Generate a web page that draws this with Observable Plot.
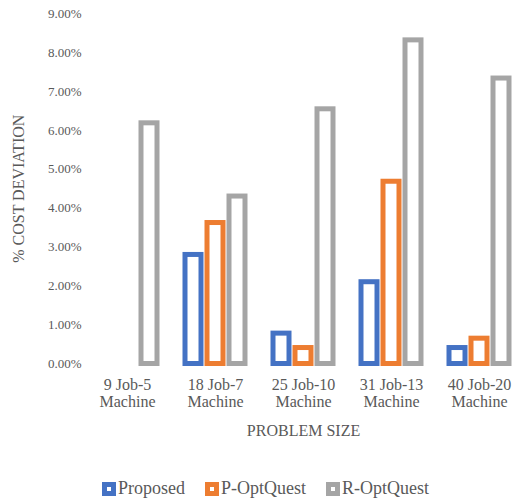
<!DOCTYPE html>
<html>
<head>
<meta charset="utf-8">
<script src="https://cdn.jsdelivr.net/npm/d3@7"></script>
<script src="https://cdn.jsdelivr.net/npm/@observablehq/plot@0.6"></script>
<style>
  body { margin: 0; background: #fff; font-family: "Liberation Serif", "Times New Roman", serif; color: #595959; }
  #chart svg { display: block; overflow: visible; }
  #chart svg text { font-family: "Liberation Serif", "Times New Roman", serif; }
  #legend { display: flex; align-items: center; padding-left: 102px; margin-top: 33px; font-size: 18px; line-height: 21px; }
  .item { display: flex; align-items: center; margin-right: 20px; }
  .sw { width: 14px; height: 14px; box-sizing: border-box; border: 5px solid; background: #fff; margin-right: 2px; }
</style>
</head>
<body>
<div id="chart"></div>
<div id="legend"></div>
<script>
// Problem sizes (x groups) and the three methods compared in each group
const categories = ["9 Job-5\nMachine", "18 Job-7\nMachine", "25 Job-10\nMachine", "31 Job-13\nMachine", "40 Job-20\nMachine"];
const seriesNames = ["Proposed", "P-OptQuest", "R-OptQuest"];
const seriesColors = ["#4472C4", "#ED7D31", "#A5A5A5"];

// % cost deviation per problem size (null = no bar)
const proposed  = [null, 2.80, 0.78, 2.10, 0.41];
const pOptQuest = [null, 3.62, 0.41, 4.68, 0.65];
const rOptQuest = [6.18, 4.30, 6.54, 8.31, 7.33];

const yTicks = [0, 1, 2, 3, 4, 5, 6, 7, 8, 9];

const seriesValues = [proposed, pOptQuest, rOptQuest];
const rows = [];
categories.forEach((c, i) => {
  seriesNames.forEach((s, j) => {
    const v = seriesValues[j][i];
    if (v != null) rows.push({category: c, series: s, value: v});
  });
});

const textColor = "#595959";

const chart = Plot.plot({
  width: 514,
  height: 445,
  marginLeft: 82,
  marginRight: -11,
  marginTop: 13,
  marginBottom: 81.5,
  style: {color: textColor, background: "#fff"},
  fx: {domain: categories, paddingInner: 0.245, paddingOuter: 0.1225, label: null},
  x: {domain: seriesNames, paddingInner: 0.26, paddingOuter: 0.13, axis: null},
  y: {domain: [0, 9]},
  color: {domain: seriesNames, range: seriesColors},
  marks: [
    Plot.barY(rows, {
      fx: "category",
      x: "series",
      y: "value",
      fill: "white",
      stroke: "series",
      strokeWidth: 5
    }),
    Plot.axisY({
      ticks: yTicks,
      tickSize: 0,
      tickPadding: 13,
      tickFormat: d => d.toFixed(2) + "%",
      fontSize: 13,
      fill: textColor,
      label: "% COST DEVIATION",
      labelAnchor: "center",
      labelOffset: 82,
      labelArrow: "none"
    }),
    Plot.axisFx({
      anchor: "bottom",
      tickSize: 0,
      tickPadding: 13,
      fontSize: 16,
      lineHeight: 1.1,
      fill: textColor,
      label: "PROBLEM SIZE",
      labelAnchor: "center",
      labelOffset: 72
    })
  ]
});

// the axis titles use the same size as the group labels
chart.querySelectorAll("text").forEach(t => {
  if (t.textContent === "% COST DEVIATION" || t.textContent === "PROBLEM SIZE") {
    t.setAttribute("font-size", 16);
  }
});

document.getElementById("chart").appendChild(chart);

// legend under the chart
const legend = d3.select("#legend");
seriesNames.forEach((s, i) => {
  const item = legend.append("div").attr("class", "item");
  item.append("div").attr("class", "sw").style("border-color", seriesColors[i]);
  item.append("span").text(s);
});
</script>
</body>
</html>
